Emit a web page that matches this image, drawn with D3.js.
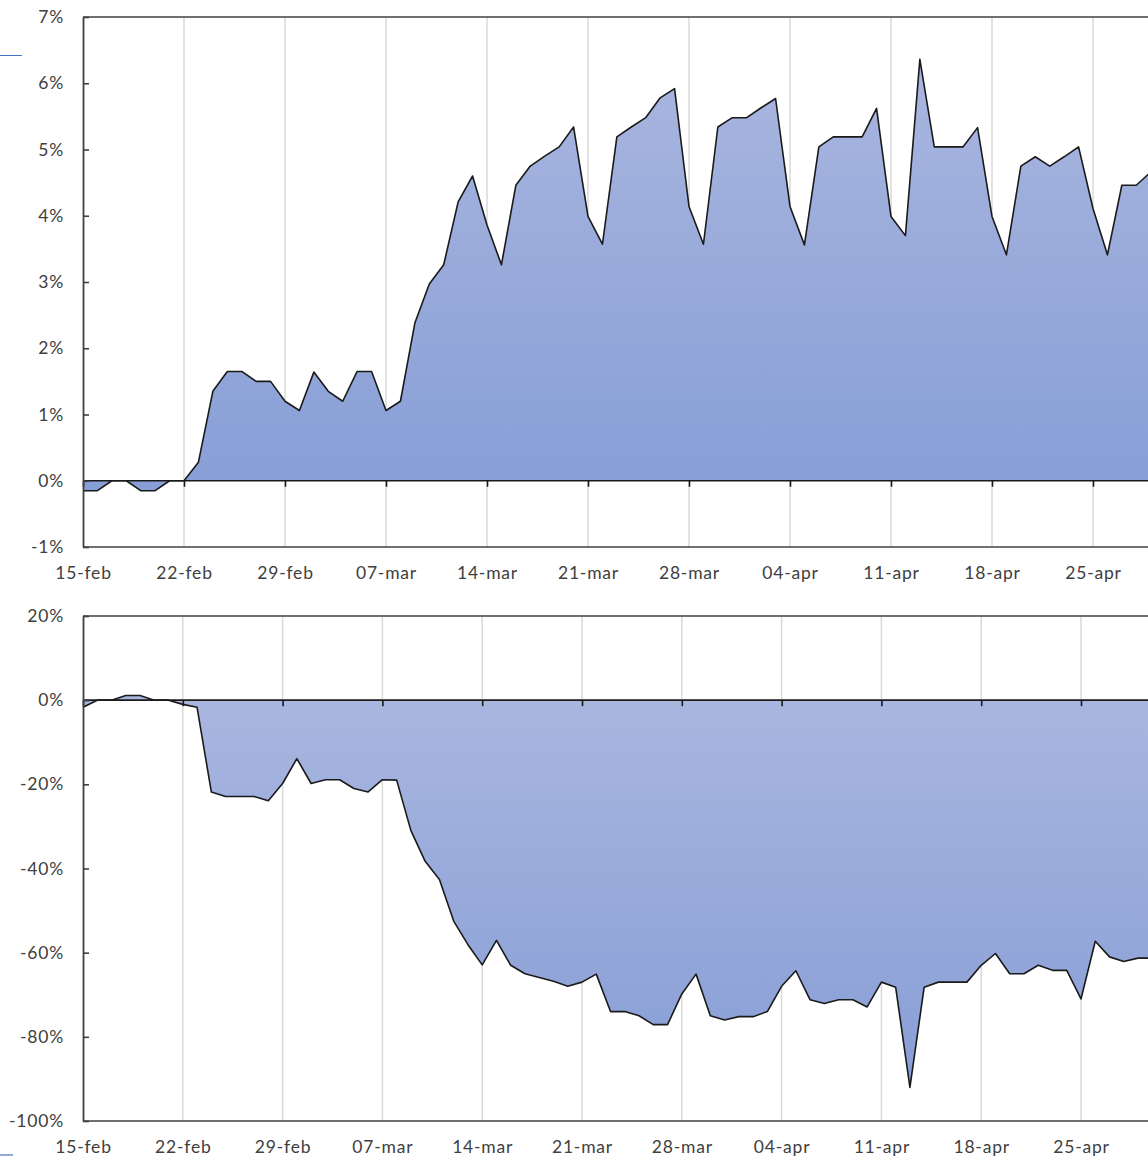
<!DOCTYPE html>
<html>
<head>
<meta charset="utf-8">
<script src="https://cdn.jsdelivr.net/npm/d3@7"></script>
<style>
  html, body { margin: 0; padding: 0; background: #fff; }
  svg { display: block; }
  text { font-family: Lato, "Open Sans", sans-serif; fill: #404040; }
</style>
</head>
<body>
<svg id="chart" width="1148" height="1156"></svg>
<script>
// ---- data ----
const startDate = "2020-02-15";
const tickLabels = ["15-feb","22-feb","29-feb","07-mar","14-mar","21-mar","28-mar","04-apr","11-apr","18-apr","25-apr"];
const topYTicks = [-1, 0, 1, 2, 3, 4, 5, 6, 7];
const bottomYTicks = [-100, -80, -60, -40, -20, 0, 20];
const topValues = [
  -0.15,-0.15,0,0,-0.15,-0.15,0,0,
  0.28,1.35,1.65,1.65,1.5,1.5,1.2,1.06,
  1.64,1.35,1.2,1.65,1.65,1.06,1.2,2.38,
  2.97,3.26,4.21,4.6,3.86,3.26,4.46,4.75,
  4.9,5.04,5.34,3.99,3.57,5.19,5.34,5.48,
  5.78,5.92,4.14,3.57,5.34,5.48,5.48,5.63,
  5.77,4.14,3.56,5.04,5.19,5.19,5.19,5.62,
  3.99,3.7,6.36,5.04,5.04,5.04,5.33,3.99,
  3.41,4.75,4.89,4.75,4.89,5.04,4.11,3.41,
  4.46,4.46,4.66
];
const bottomValues = [
  -1.7,0,0,1.1,1.1,0,0,-1,
  -1.7,-21.8,-22.9,-22.9,-22.9,-23.9,-19.8,-13.9,
  -19.8,-18.9,-18.9,-21,-21.8,-18.9,-19,-31,
  -38.3,-42.6,-52.5,-58.1,-62.9,-57.1,-63,-65,
  -65.9,-66.8,-68,-67,-65.1,-74,-74,-75,
  -77.1,-77.1,-69.8,-65.1,-75,-76,-75.2,-75.2,
  -74,-68,-64.3,-71.2,-72.1,-71.2,-71.2,-72.9,
  -67,-68.2,-92,-68.2,-67,-67,-67,-63,
  -60.2,-65,-65,-63,-64.2,-64.2,-71,-57.3,
  -61,-62.1,-61.3,-61.3
];

// ---- drawing ----
const svg = d3.select("#chart");
const parse = d3.utcParse("%Y-%m-%d");
const t0 = parse(startDate);

const defs = svg.append("defs");
const grad = defs.append("linearGradient").attr("id", "areaGrad")
  .attr("x1", 0).attr("y1", 0).attr("x2", 0).attr("y2", 1);
grad.append("stop").attr("offset", "0%").attr("stop-color", "#a9b6df");
grad.append("stop").attr("offset", "100%").attr("stop-color", "#879ed6");

function styleText(sel) {
  sel.style("font-size", "17.5px").style("letter-spacing", "0.8px")
    .attr("fill", "#404040").style("font-family", "Lato, 'Open Sans', sans-serif");
}

function drawPanel(cfg) {
  const values = cfg.values;
  const dates = values.map((v, i) => d3.utcDay.offset(t0, i));
  const tickDates = tickLabels.map((l, i) => d3.utcDay.offset(t0, i * 7));
  const x = d3.scaleUtc()
    .domain([t0, d3.utcDay.offset(t0, 7)])
    .range([cfg.left, cfg.left + cfg.weekPx]);
  const y = d3.scaleLinear().domain(cfg.yDomain).range([cfg.bottom, cfg.top]);
  const right = 1148;
  const g = svg.append("g");

  // vertical gridlines
  g.append("g").selectAll("line").data(tickDates.slice(1)).join("line")
    .attr("x1", d => x(d)).attr("x2", d => x(d))
    .attr("y1", cfg.top).attr("y2", cfg.bottom)
    .attr("stroke", "#d9d9d9").attr("stroke-width", 1.5);

  // area
  const area = d3.area().x((d, i) => x(dates[i])).y0(y(0)).y1(d => y(d));
  g.append("path").datum(values).attr("d", area).attr("fill", "url(#areaGrad)");
  const line = d3.line().x((d, i) => x(dates[i])).y(d => y(d));
  g.append("path").datum(values).attr("d", line)
    .attr("fill", "none").attr("stroke", "#1a1a1a").attr("stroke-width", 1.6)
    .attr("stroke-linejoin", "round");

  // frame: top border, bottom axis line
  g.append("line").attr("x1", cfg.left).attr("x2", right).attr("y1", cfg.top).attr("y2", cfg.top)
    .attr("stroke", "#404040").attr("stroke-width", 1.6);
  g.append("line").attr("x1", cfg.left).attr("x2", right).attr("y1", cfg.bottom).attr("y2", cfg.bottom)
    .attr("stroke", "#404040").attr("stroke-width", 1.6);

  // zero line with ticks
  const zeroAxis = d3.axisBottom(x).tickValues(tickDates).tickFormat("").tickSize(6).tickSizeOuter(0);
  const za = g.append("g").attr("transform", `translate(0,${y(0)})`).call(zeroAxis);
  za.select(".domain").remove();
  za.selectAll(".tick line").attr("stroke", "#1a1a1a").attr("stroke-width", 1.6);
  g.append("line").attr("x1", cfg.left).attr("x2", right).attr("y1", y(0)).attr("y2", y(0))
    .attr("stroke", "#1a1a1a").attr("stroke-width", 1.6);

  // x labels (bottom)
  const xAxis = d3.axisBottom(x).tickValues(tickDates)
    .tickFormat((d, i) => tickLabels[i]).tickSize(0).tickPadding(cfg.labelPad);
  const xa = g.append("g").attr("transform", `translate(0,${cfg.bottom})`).call(xAxis);
  xa.select(".domain").remove();
  styleText(xa.selectAll("text"));

  // y axis (ticks inside)
  const yAxis = d3.axisLeft(y).tickValues(cfg.yTicks).tickFormat(d => d + "%")
    .tickSize(-6).tickPadding(19).tickSizeOuter(0);
  const ya = g.append("g").attr("transform", `translate(${cfg.left},0)`).call(yAxis);
  ya.select(".domain").attr("stroke", "#404040").attr("stroke-width", 1.8);
  ya.selectAll(".tick line").attr("stroke", "#404040").attr("stroke-width", 1.6);
  styleText(ya.selectAll("text"));
}

drawPanel({ values: topValues, left: 83, weekPx: 101, top: 17, bottom: 547,
  yDomain: [-1, 7], yTicks: topYTicks, labelPad: 20 });
drawPanel({ values: bottomValues, left: 83, weekPx: 99.8, top: 616, bottom: 1121,
  yDomain: [-100, 20], yTicks: bottomYTicks, labelPad: 20 });

// stray decorative lines at left edge
svg.append("line").attr("x1", 0).attr("x2", 22).attr("y1", 55.5).attr("y2", 55.5)
  .attr("stroke", "#4472c4").attr("stroke-width", 1);
svg.append("line").attr("x1", 0).attr("x2", 13).attr("y1", 1155).attr("y2", 1155)
  .attr("stroke", "#4472c4").attr("stroke-width", 1.2);
</script>
</body>
</html>
